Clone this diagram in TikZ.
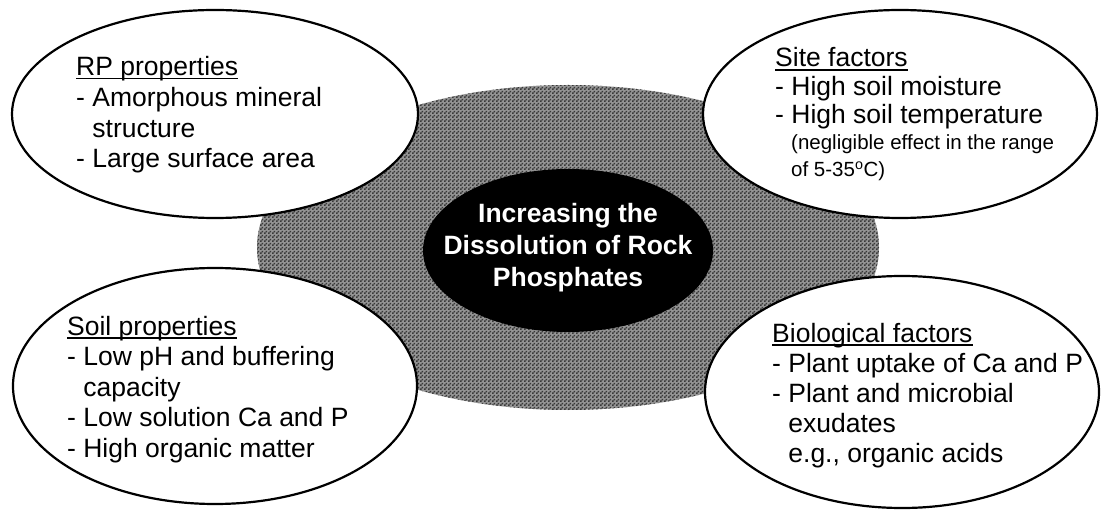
\documentclass[tikz,border=0pt]{standalone}
\usepackage{fontspec}
\setmainfont{Liberation Sans}
\usetikzlibrary{patterns.meta}
\pgfdeclarepattern{name=chk, type=uncolored, bottom left={\pgfpointorigin}, top right={\pgfpoint{4pt}{4pt}}, tile size={\pgfpoint{4pt}{4pt}}, code={\pgfpathrectangle{\pgfpointorigin}{\pgfpoint{2pt}{2pt}}\pgfpathrectangle{\pgfpoint{2pt}{2pt}}{\pgfpoint{2pt}{2pt}}\pgfusepath{fill}}}
\newcommand\hdrline[1]{\setbox0\hbox{#1}\rlap{\rule[-3.6pt]{\wd0}{1.8pt}}\box0}
\tikzset{
  bubble/.style={fill=white, draw=black, line width=2.2pt},
  blocktext/.style={anchor=base west, inner sep=0pt, align=left, font=\fontsize{26.5}{30}\selectfont},
  smalltext/.style={anchor=base west, inner sep=0pt, align=left, font=\fontsize{20.5}{27}\selectfont},
  centertext/.style={anchor=base, inner sep=0pt, align=center, text=white, font=\fontsize{26.5}{32}\selectfont\bfseries}
}
\begin{document}
\begin{tikzpicture}[x=1pt,y=-1pt]
\useasboundingbox (0,0) rectangle (1102,510);
% hatched background ellipse
\fill[black!42] (568,247.5) ellipse [x radius=311, y radius=162.5];
\fill[pattern=chk, pattern color=black!78] (568,247.5) ellipse [x radius=311, y radius=162.5];
% black centre
\fill[black] (568,250.5) ellipse [x radius=145, y radius=81.5];
\node[centertext] (center) at (568,287) {Increasing the\\Dissolution of Rock\\Phosphates};
% four bubbles
\path[bubble] (215,114) ellipse [x radius=203, y radius=104];
\path[bubble] (900,114) ellipse [x radius=197, y radius=104];
\path[bubble] (215,386) ellipse [x radius=202, y radius=118];
\path[bubble] (902,392) ellipse [x radius=197, y radius=116];
% texts (anchored at the baseline of their last line)
\node[blocktext, font=\fontsize{26.5}{30.7}\selectfont] (rp) at (76,168) {\hdrline{RP properties}\\- Amorphous mineral\\\hphantom{- }structure\\- Large surface area};
\node[blocktext, font=\fontsize{26.5}{28.5}\selectfont] (site) at (775,124) {\hdrline{Site factors}\\- High soil moisture\\- High soil temperature};
\node[smalltext] (sitenote) at (791,177) {(negligible effect in the range\\of 5-35\textsuperscript{o}C)};
\node[blocktext, font=\fontsize{26.5}{30.5}\selectfont] (soil) at (67,457) {\hdrline{Soil properties}\\- Low pH and buffering\\\hphantom{- }capacity\\- Low solution Ca and P\\- High organic matter};
\node[blocktext] (bio) at (772,462) {\hdrline{Biological factors}\\- Plant uptake of Ca and P\\- Plant and microbial\\\hphantom{- }exudates\\\hphantom{- }e.g., organic acids};
\end{tikzpicture}
\end{document}
